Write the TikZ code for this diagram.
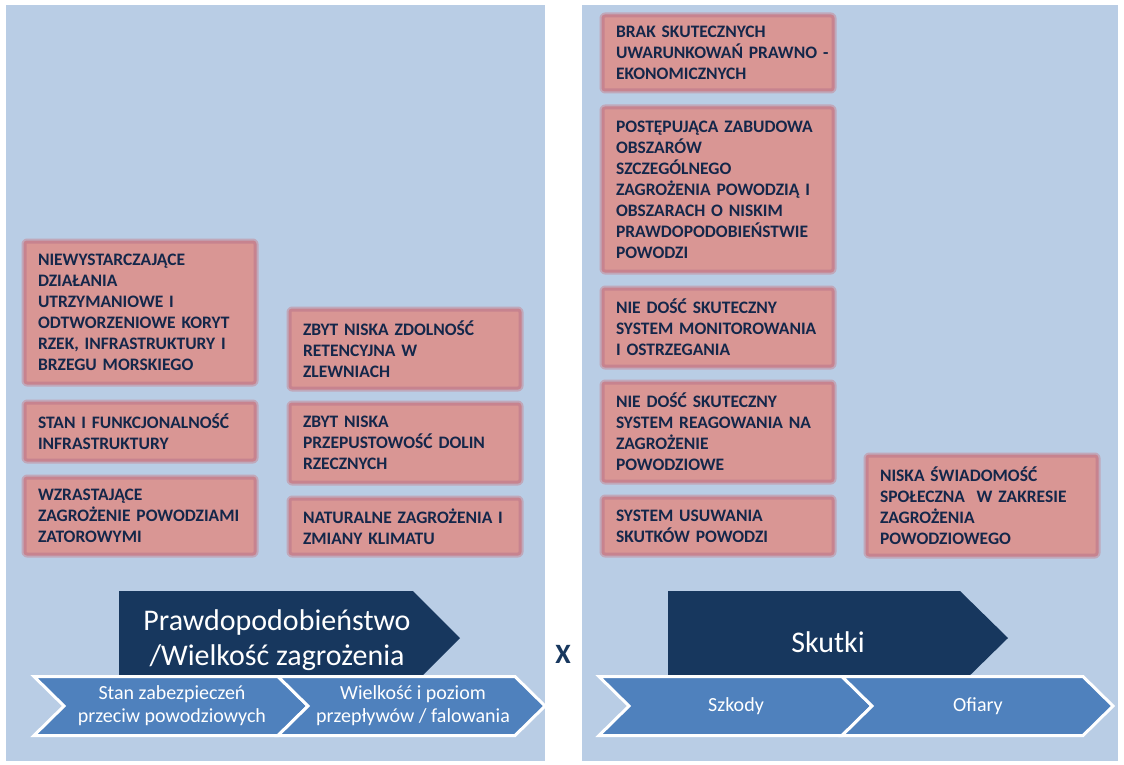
\documentclass[tikz,border=0pt]{standalone}
\usepackage{fontspec}
\setmainfont{Carlito}
\definecolor{panel}{HTML}{B9CDE5}
\definecolor{navy}{HTML}{17375E}
\definecolor{chev}{HTML}{4F81BD}
\definecolor{boxfill}{HTML}{D99694}
\definecolor{boxglow}{HTML}{C7838F}
\definecolor{boxtext}{HTML}{14274A}
\begin{document}
\begin{tikzpicture}[x=1pt,y=-1pt,line join=round]
	\tikzset{pbox/.style={fill=boxfill,draw=boxglow,line width=3,rounded corners=2,
			preaction={draw=boxglow!50!panel,line width=7,rounded corners=3},
			anchor=north west,text width=204,inner xsep=13,inner ysep=0,align=left,
			text=boxtext,font=\bfseries\fontsize{17.5}{21}\selectfont},
		chevron/.style={fill=chev,draw=white,line width=3,line join=miter},
		bigtxt/.style={text=white,align=center,font=\fontsize{30}{35}\selectfont},
		smalltxt/.style={text=white,align=center,font=\fontsize{20}{23}\selectfont}}
	\useasboundingbox (0,0) rectangle (1124,765);
	\fill[panel] (6,5) rectangle (545,761);
	\fill[panel] (582,5) rectangle (1118,761);
	\begin{scope}
		\node[pbox,minimum height=141] (dzialania) at (23.5,240.5) {NIEWYSTARCZAJĄCE\\DZIAŁANIA\\UTRZYMANIOWE I\\ODTWORZENIOWE KORYT\\RZEK, INFRASTRUKTURY I\\BRZEGU MORSKIEGO};
		\node[pbox,minimum height=57] (stanfunk) at (23.5,401.5) {STAN I FUNKCJONALNOŚĆ\\INFRASTRUKTURY};
		\node[pbox,minimum height=76] (zatory) at (23.5,476.5) {WZRASTAJĄCE\\ZAGROŻENIE POWODZIAMI\\ZATOROWYMI};
		\node[pbox,minimum height=78] (retencja) at (288.5,308.5) {ZBYT NISKA ZDOLNOŚĆ\\RETENCYJNA W\\ZLEWNIACH};
		\node[pbox,minimum height=78] (doliny) at (288.5,402.5) {ZBYT NISKA\\PRZEPUSTOWOŚĆ DOLIN\\RZECZNYCH};
		\node[pbox,minimum height=55] (klimat) at (288.5,497.5) {NATURALNE ZAGROŻENIA I\\ZMIANY KLIMATU};
	\end{scope}
	\begin{scope}
		\node[pbox,minimum height=74] (prawo) at (601.5,14.5) {BRAK SKUTECZNYCH\\\mbox{UWARUNKOWAŃ PRAWNO -}\\EKONOMICZNYCH};
		\node[pbox,minimum height=163] (zabudowa) at (601.5,106.5) {POSTĘPUJĄCA ZABUDOWA\\OBSZARÓW\\SZCZEGÓLNEGO\\ZAGROŻENIA POWODZIĄ I\\OBSZARACH O NISKIM\\PRAWDOPODOBIEŃSTWIE\\POWODZI};
		\node[pbox,minimum height=77] (monitor) at (601.5,287.5) {NIE DOŚĆ SKUTECZNY\\\mbox{SYSTEM MONITOROWANIA}\\I OSTRZEGANIA};
		\node[pbox,minimum height=98] (reagowanie) at (601.5,381.5) {NIE DOŚĆ SKUTECZNY\\\mbox{SYSTEM REAGOWANIA NA}\\ZAGROŻENIE\\POWODZIOWE};
		\node[pbox,minimum height=56] (usuwanie) at (601.5,496.5) {SYSTEM USUWANIA\\SKUTKÓW POWODZI};
		\node[pbox,minimum height=99] (swiadomosc) at (865.5,454.5) {NISKA ŚWIADOMOŚĆ\\\mbox{SPOŁECZNA~ W ZAKRESIE}\\ZAGROŻENIA\\POWODZIOWEGO};
	\end{scope}
	\fill[navy] (119,591)--(413,591)--(460,638)--(413,685)--(119,685)--cycle;
	\fill[navy] (668,591)--(960,591)--(1008,638)--(960,685)--(668,685)--cycle;
	\node[bigtxt] (prawdop) at (277,640) {Prawdopodobieństwo\\/Wielkość zagrożenia};
	\node[bigtxt] (skutki) at (828,642) {Skutki};
	\draw[chevron] (34,676.5)--(278,676.5)--(308,706)--(278,735.5)--(34,735.5)--(64,706)--cycle;
	\draw[chevron] (278,676.5)--(515,676.5)--(545,706)--(515,735.5)--(278,735.5)--(308,706)--cycle;
	\draw[chevron] (599,676.5)--(842,676.5)--(872,706)--(842,735.5)--(599,735.5)--(629,706)--cycle;
	\draw[chevron] (842,676.5)--(1083,676.5)--(1113,706)--(1083,735.5)--(842,735.5)--(872,706)--cycle;
	\node[smalltxt] (zabezp) at (172,706) {Stan zabezpieczeń\\przeciw powodziowych};
	\node[smalltxt] (przeplyw) at (413,706) {Wielkość i poziom\\przepływów / falowania};
	\node[smalltxt] (szkody) at (736,706) {Szkody};
	\node[smalltxt] (ofiary) at (978,706) {Ofiary};
	\node[text=navy,font=\bfseries\fontsize{28}{30}\selectfont] (razy) at (563,654) {X};
\end{tikzpicture}
\end{document}
